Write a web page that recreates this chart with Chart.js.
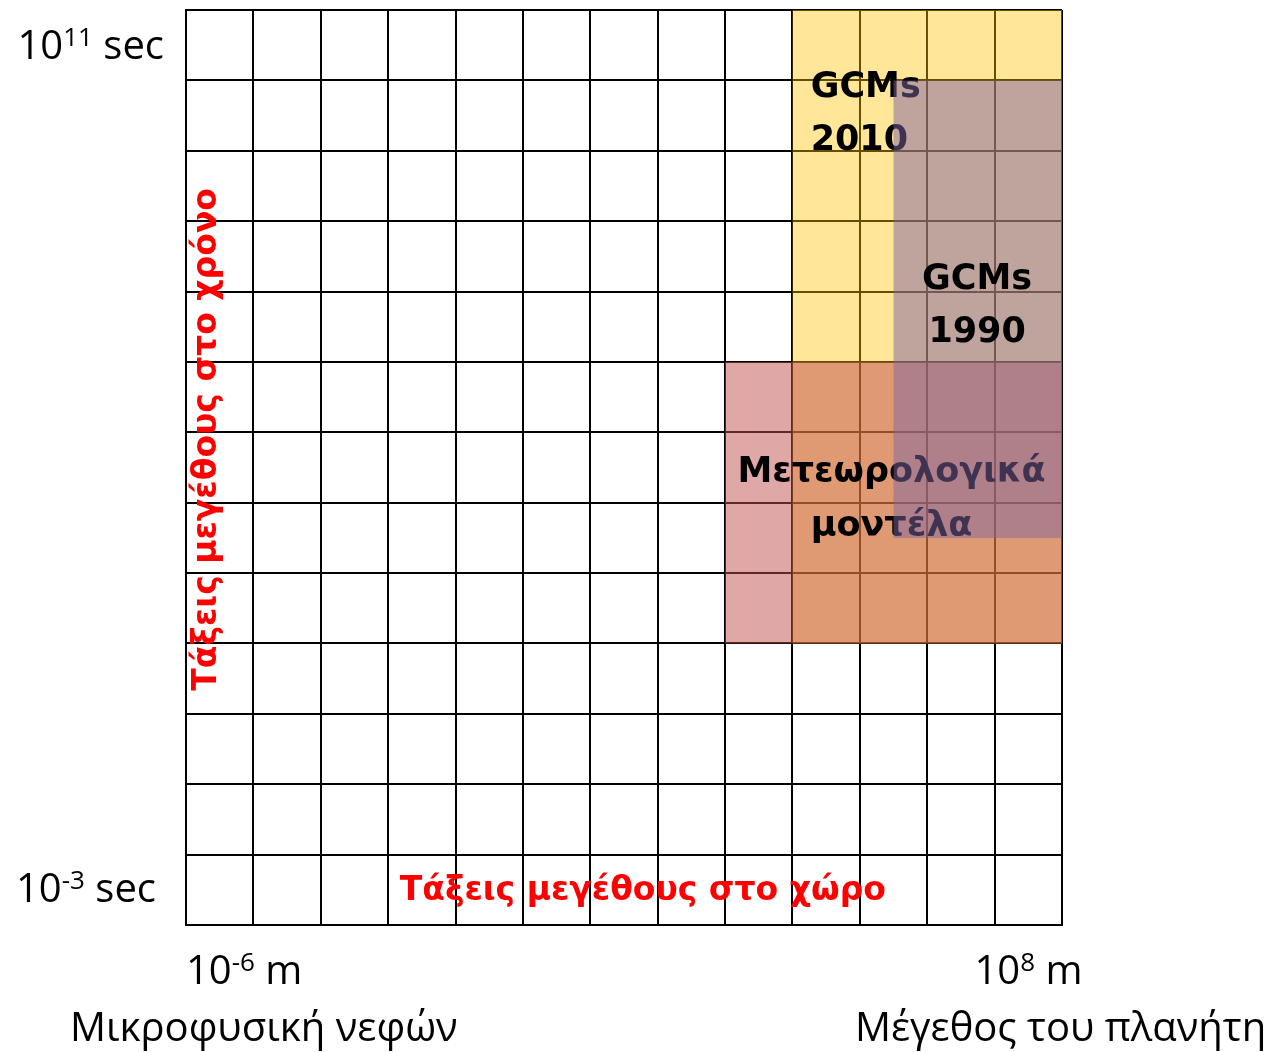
<!DOCTYPE html>
<html>
<head>
<meta charset="utf-8">
<script src="https://cdn.jsdelivr.net/npm/chart.js@4.4.1/dist/chart.umd.min.js"></script>
<style>
  html, body { margin: 0; padding: 0; background: #fff; }
  #wrap { width: 1266px; height: 1052px; position: relative; }
</style>
</head>
<body>
<div id="wrap"><canvas id="c"></canvas></div>
<script>
// 13 x 13 cells: orders of magnitude in space (x) and in time (y)
const xRange = [0, 13];
const yRange = [0, 13];
const regionNames = ['GCMs 2010', 'Μετεωρολογικά μοντέλα', 'GCMs 1990'];
const regionX = [[9, 13], [8, 13], [10.5, 13]];
const regionY = [[4, 13], [4, 8], [5.5, 12]];
const yTickLabels = [['10', '-3', ' sec'], ['10', '11', ' sec']];
const xTickLabels = [['10', '-6', ' m'], ['10', '8', ' m']];
const xEndNames = ['Μικροφυσική νεφών', 'Μέγεθος του πλανήτη'];
const xAxisTitle = 'Τάξεις μεγέθους στο χώρο';
const yAxisTitle = 'Τάξεις μεγέθους στο χρόνο';

const fills = ['rgba(255,192,0,0.4)', 'rgba(192,80,77,0.5)', 'rgba(128,100,162,0.5)'];
const drawOrder = [3, 2, 1]; // yellow first, purple last

function rect(xs, ys) {
  return [
    { x: xs[0], y: ys[0] }, { x: xs[1], y: ys[0] },
    { x: xs[1], y: ys[1] }, { x: xs[0], y: ys[1] }, { x: xs[0], y: ys[0] }
  ];
}

const datasets = regionNames.map((name, i) => ({
  label: name,
  data: rect(regionX[i], regionY[i]),
  backgroundColor: fills[i],
  borderWidth: 0,
  pointRadius: 0,
  fill: 'shape',
  tension: 0,
  order: drawOrder[i]
}));

const BOLD = 'bold 35px "DejaVu Sans"';
const NORMAL = '40px "Open Sans"';
const SUP = '26px "Open Sans"';

function supText(ctx, parts, px, py, align) {
  ctx.font = NORMAL;
  const w0 = ctx.measureText(parts[0]).width;
  const w2 = ctx.measureText(parts[2]).width;
  ctx.font = SUP;
  const w1 = ctx.measureText(parts[1]).width;
  const total = w0 + w1 + w2;
  let sx = align === 'right' ? px - total : align === 'center' ? px - total / 2 : px;
  ctx.textAlign = 'left';
  ctx.textBaseline = 'alphabetic';
  ctx.font = NORMAL;
  ctx.fillText(parts[0], sx, py + 14);
  ctx.font = SUP;
  ctx.fillText(parts[1], sx + w0, py + 1);
  ctx.font = NORMAL;
  ctx.fillText(parts[2], sx + w0 + w1, py + 14);
}

const labelsPlugin = {
  id: 'labels',
  afterDatasetDraw(chart, args) {
    const { ctx, scales: { x, y } } = chart;
    ctx.save();
    ctx.fillStyle = '#000';
    ctx.font = BOLD;
    ctx.textBaseline = 'middle';
    if (args.index === 1) {
      // these two sit underneath the purple box
      const g = regionNames[0].split(' ');
      ctx.textAlign = 'left';
      ctx.fillText(g[0], x.getPixelForValue(9.27), y.getPixelForValue(11.89));
      ctx.fillText(g[1], x.getPixelForValue(9.27), y.getPixelForValue(11.14));
      const m = regionNames[1].split(' ');
      ctx.textAlign = 'center';
      ctx.fillText(m[0], x.getPixelForValue(10.47), y.getPixelForValue(6.42));
      ctx.fillText(m[1], x.getPixelForValue(10.47), y.getPixelForValue(5.66));
    }
    if (args.index === 2) {
      const g = regionNames[2].split(' ');
      ctx.textAlign = 'center';
      ctx.fillText(g[0], x.getPixelForValue(11.74), y.getPixelForValue(9.16));
      ctx.fillText(g[1], x.getPixelForValue(11.74), y.getPixelForValue(8.41));
    }
    ctx.restore();
  },
  afterDraw(chart) {
    const { ctx, chartArea: a, scales: { x, y } } = chart;
    ctx.save();
    // red axis titles inside the grid
    ctx.fillStyle = '#ff0000';
    ctx.font = 'bold 33px "DejaVu Sans"';
    ctx.textAlign = 'center';
    ctx.textBaseline = 'middle';
    ctx.fillText(xAxisTitle, x.getPixelForValue(6.78), y.getPixelForValue(0.48));
    ctx.translate(x.getPixelForValue(0.32), y.getPixelForValue(6.9));
    ctx.rotate(-Math.PI / 2);
    ctx.fillText(yAxisTitle, 0, 0);
    ctx.setTransform(1, 0, 0, 1, 0, 0);
    ctx.restore();

    ctx.save();
    ctx.fillStyle = '#000';
    supText(ctx, yTickLabels[0], a.left - 30, y.getPixelForValue(0.5) - 2, 'right');
    supText(ctx, yTickLabels[1], a.left - 22, y.getPixelForValue(12.5), 'right');
    supText(ctx, xTickLabels[0], x.getPixelForValue(0), a.bottom + 45, 'left');
    supText(ctx, xTickLabels[1], x.getPixelForValue(11.7), a.bottom + 45, 'left');
    ctx.font = NORMAL;
    ctx.textBaseline = 'middle';
    ctx.textAlign = 'left';
    ctx.fillText(xEndNames[0], 70, a.bottom + 105);
    ctx.fillText(xEndNames[1], 855, a.bottom + 105);
    ctx.restore();
  }
};

const gridAxis = (range) => ({
  type: 'linear',
  min: range[0],
  max: range[1],
  ticks: { display: false, stepSize: 1 },
  grid: { color: '#000', lineWidth: 2, drawTicks: false },
  border: { color: '#000', width: 2 }
});

new Chart(document.getElementById('c'), {
  type: 'line',
  data: { datasets },
  options: {
    responsive: true,
    maintainAspectRatio: false,
    animation: false,
    devicePixelRatio: 1,
    layout: { padding: { left: 186, top: 10, right: 204, bottom: 127 } },
    plugins: { legend: { display: false }, tooltip: { enabled: false } },
    scales: { x: gridAxis(xRange), y: gridAxis(yRange) }
  },
  plugins: [labelsPlugin]
});
</script>
</body>
</html>
